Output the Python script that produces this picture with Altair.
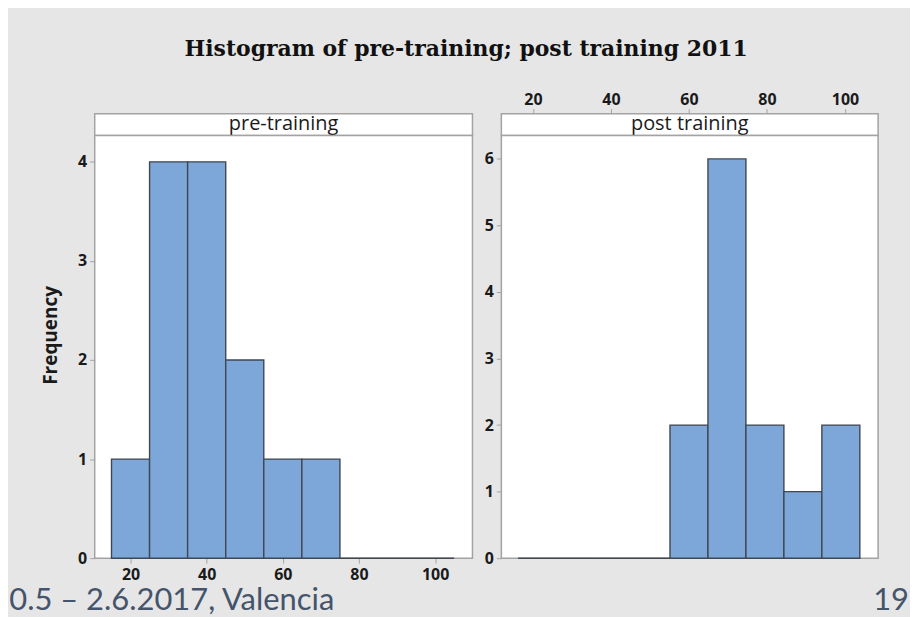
import altair as alt
import pandas as pd

# ---------------- data ----------------
TITLE = "Histogram of pre-training; post training 2011"
PANELS = ["pre-training", "post training"]
BIN_MIDS = [20, 30, 40, 50, 60, 70, 80, 90, 100]
BIN_WIDTH = 10
PRE_COUNTS = [1, 4, 4, 2, 1, 1, 0, 0, 0]
POST_COUNTS = [0, 0, 0, 0, 2, 6, 2, 1, 2]
X_TICKS = [20, 40, 60, 80, 100]
PRE_Y_TICKS = [0, 1, 2, 3, 4]
POST_Y_TICKS = [0, 1, 2, 3, 4, 5, 6]
Y_LABEL = "Frequency"
FOOTER_LEFT = ["0.5 – 2.6.2017, Valencia"]
FOOTER_RIGHT = ["19"]

# ---------------- style ----------------
X_DOMAIN = [11.9, 108.5]
PRE_Y_MAX = 4.265
POST_Y_MAX = 6.35

BG = "#e6e6e6"
BAR = "#7da7d9"
EDGE = "#3f4750"
FRAME = "#a3a3a3"
TXT = "#1a1a1a"
SLATE = "#44546a"
W_L, W_R, H, HDR = 379, 378, 424, 22

AX = dict(labelFont="Open Sans", labelFontWeight="bold", labelFontSize=16,
          labelColor=TXT, tickColor=FRAME, tickSize=5, domain=False, grid=False)


def header(name, top_axis, width):
    df = pd.DataFrame({"panel": [name]})
    xmid = (X_DOMAIN[0] + X_DOMAIN[1]) / 2
    if top_axis:
        xenc = alt.XDatum(xmid, type="quantitative",
                          scale=alt.Scale(domain=X_DOMAIN, nice=False, zero=False),
                          axis=alt.Axis(values=X_TICKS, orient="top", title=None,
                                        labelPadding=1, **AX))
    else:
        xenc = alt.value(width / 2)
    return alt.Chart(df).mark_text(
        font="Open Sans", fontSize=20, color=TXT, baseline="middle", align="center", dy=-1
    ).encode(
        x=xenc, y=alt.value(HDR / 2), text="panel:N"
    ).properties(width=width, height=HDR,
                 view=alt.ViewBackground(fill="white", stroke=FRAME, strokeWidth=1.5))


def hist(counts, ymax, yticks, show_x, show_title, width, footer, footer_x, footer_align):
    df = pd.DataFrame({"mid": BIN_MIDS, "count": counts})
    xkw = dict(scale=alt.Scale(domain=X_DOMAIN, nice=False, zero=False))
    if show_x:
        xkw["axis"] = alt.Axis(values=X_TICKS, orient="bottom", title=None, labelPadding=3, **AX)
    else:
        xkw["axis"] = None
    ykw = dict(values=yticks, labelPadding=3, **AX)
    if show_title:
        ykw.update(title=Y_LABEL, titleFont="Open Sans", titleFontWeight="bold",
                   titleFontSize=19, titleColor=TXT, titleAngle=270,
                   titleBaseline="middle", titleAlign="center", titleX=-44, titleY=200)
    else:
        ykw["title"] = None
    half = BIN_WIDTH / 2
    bars = alt.Chart(df).transform_calculate(
        lo=f"datum.mid - {half}", hi=f"datum.mid + {half}"
    ).mark_bar(color=BAR, stroke=EDGE, strokeWidth=1.4, orient="vertical").encode(
        x=alt.X("lo:Q", **xkw),
        x2="hi:Q",
        y=alt.Y("count:Q", scale=alt.Scale(domain=[0, ymax], nice=False), axis=alt.Axis(**ykw)),
        y2=alt.datum(0),
    )
    foot = alt.Chart(pd.DataFrame({"t": footer})).mark_text(
        font="Lato", fontSize=31, color=SLATE, align=footer_align, baseline="alphabetic"
    ).encode(x=alt.value(footer_x), y=alt.value(476), text="t:N")
    return alt.layer(bars, foot).properties(
        width=width, height=H,
        view=alt.ViewBackground(fill="white", stroke=FRAME, strokeWidth=1.5))


hdr_l = header(PANELS[0], False, W_L)
hdr_r = header(PANELS[1], True, W_R)
hist_l = hist(PRE_COUNTS, PRE_Y_MAX, PRE_Y_TICKS, True, True, W_L, FOOTER_LEFT, -85.7, "left")
hist_r = hist(POST_COUNTS, POST_Y_MAX, POST_Y_TICKS, False, False, W_R, FOOTER_RIGHT, 409, "right")

chart = alt.concat(
    hdr_l, hdr_r, hist_l, hist_r, columns=2,
    spacing=alt.RowColnumber(row=0, column=29), bounds="flush"
).properties(
    title=alt.TitleParams(TITLE, font="DejaVu Serif", fontSize=22, fontWeight="bold",
                          color="#111111", anchor="middle", dx=7, offset=30),
    background=BG,
    padding={"left": 0, "top": 29, "right": 0, "bottom": 0},
).configure_view(stroke=FRAME)

chart.save("out.html", embed_options={"renderer": "svg", "actions": False})
